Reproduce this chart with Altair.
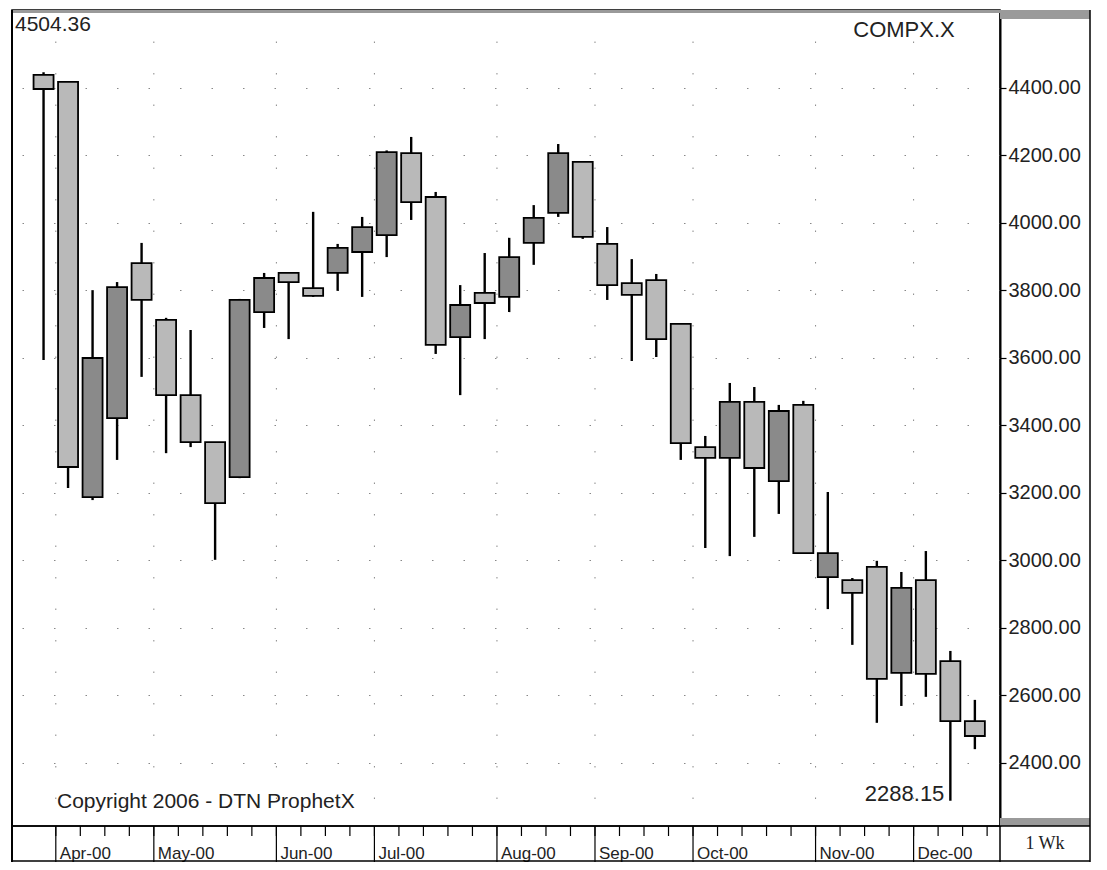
import altair as alt
import pandas as pd

# ---- data (weekly candles) ----
dates = ["2000-03-27", "2000-04-03", "2000-04-10", "2000-04-17", "2000-04-24",
         "2000-05-01", "2000-05-08", "2000-05-15", "2000-05-22", "2000-05-29",
         "2000-06-05", "2000-06-12", "2000-06-19", "2000-06-26", "2000-07-03",
         "2000-07-10", "2000-07-17", "2000-07-24", "2000-07-31", "2000-08-07",
         "2000-08-14", "2000-08-21", "2000-08-28", "2000-09-04", "2000-09-11",
         "2000-09-18", "2000-09-25", "2000-10-02", "2000-10-09", "2000-10-16",
         "2000-10-23", "2000-10-30", "2000-11-06", "2000-11-13", "2000-11-20",
         "2000-11-27", "2000-12-04", "2000-12-11", "2000-12-18"]
opens = [4439, 4418, 3188, 3422, 3881, 3713, 3490, 3351, 3247, 3736,
         3852, 3807, 3852, 3914, 3964, 4207, 4077, 3662, 3793, 3781,
         3941, 4030, 4181, 3938, 3822, 3831, 3701, 3336, 3304, 3470,
         3235, 3461, 2951, 2942, 2981, 2667, 2942, 2702, 2524]
highs = [4447, 4418, 3801, 3825, 3941, 3719, 3683, 3351, 3775, 3852,
         3852, 4033, 3938, 4018, 4215, 4255, 4092, 3816, 3911, 3956,
         4053, 4234, 4181, 3988, 3893, 3849, 3701, 3369, 3526, 3514,
         3461, 3473, 3203, 2948, 2999, 2966, 3028, 2732, 2587]
lows = [3594, 3215, 3179, 3298, 3544, 3318, 3336, 3002, 3244, 3689,
        3656, 3781, 3799, 3781, 3899, 4009, 3612, 3490, 3656, 3736,
        3876, 4018, 3953, 3772, 3591, 3603, 3298, 3037, 3013, 3070,
        3138, 3022, 2856, 2750, 2519, 2569, 2596, 2288.15, 2441]
closes = [4397, 3277, 3600, 3810, 3772, 3490, 3351, 3170, 3772, 3837,
          3825, 3784, 3926, 3988, 4210, 4062, 3639, 3757, 3763, 3899,
          4015, 4207, 3959, 3816, 3787, 3656, 3348, 3304, 3470, 3274,
          3443, 3022, 3022, 2904, 2649, 2919, 2664, 2524, 2480]

month_labels = ["Apr-00", "May-00", "Jun-00", "Jul-00", "Aug-00",
                "Sep-00", "Oct-00", "Nov-00", "Dec-00"]
month_dividers = ["2000-03-30T12:00:00Z", "2000-04-27T12:00:00Z", "2000-06-01T12:00:00Z",
                  "2000-06-29T12:00:00Z", "2000-08-03T12:00:00Z", "2000-08-31T12:00:00Z",
                  "2000-09-28T12:00:00Z", "2000-11-02T12:00:00Z", "2000-11-30T12:00:00Z"]
price_ticks = [2400, 2600, 2800, 3000, 3200, 3400, 3600, 3800, 4000, 4200, 4400]

symbol = "COMPX.X"
high_label = "4504.36"
copyright_text = "Copyright 2006 - DTN ProphetX"
period_text = "1 Wk"

# ---- tables ----
df = pd.DataFrame({"date": dates, "open": opens, "high": highs,
                   "low": lows, "close": closes})
df["dir"] = ["up" if c > o else "down" for o, c in zip(opens, closes)]
months = pd.DataFrame({"d": month_dividers, "label": month_labels})
lo_i = lows.index(min(lows))
low_df = pd.DataFrame({"date": [dates[lo_i]], "low": [lows[lo_i]],
                       "txt": [f"{lows[lo_i]:.2f}"]})
one = pd.DataFrame({"k": [0]})

W, H = 988, 816
BAND = 36
PANEL = 90
FONT = "Liberation Sans"
LIGHT, DARK = "#b9b9b9", "#8a8a8a"

xscale = alt.Scale(type="utc", domain=[
    alt.DateTime(year=2000, month=3, date=19, hours=10, minutes=0, utc=True),
    alt.DateTime(year=2000, month=12, date=23, hours=18, minutes=0, utc=True)])
yscale = alt.Scale(domain=[2213.3, 4631.1], nice=False, zero=False)

yaxis = alt.Axis(orient="right", values=price_ticks, format=".2f", title=None,
                 grid=True, gridDash=[1.5, 30], gridColor="#888", gridWidth=1,
                 labelFont=FONT, labelFontSize=20, labelColor="#222",
                 tickColor="black", tickSize=6, tickWidth=1.2,
                 domainColor="black", domainWidth=2, labelPadding=2)

base = alt.Chart(df)

vgrid = alt.Chart(months).mark_rule(color="#888", strokeDash=[1.5, 30], strokeWidth=1).encode(
    x=alt.X("d:T", scale=xscale, axis=None), y=alt.value(0), y2=alt.value(H))

wicks = base.mark_rule(color="black", strokeWidth=2.4).encode(
    x=alt.X("date:T", scale=xscale, axis=None),
    y=alt.Y("low:Q", scale=yscale, axis=yaxis), y2="high:Q")

bodies = base.mark_bar(size=20, stroke="black", strokeWidth=1.8).encode(
    x=alt.X("date:T", scale=xscale, axis=None),
    y=alt.Y("open:Q", scale=yscale), y2="close:Q",
    color=alt.Color("dir:N", scale=alt.Scale(domain=["up", "down"], range=[DARK, LIGHT]),
                    legend=None))

week_ticks = base.transform_calculate(
    wk="time(toDate(datum.date)) + 302400000").mark_rule(color="black", strokeWidth=1.2).encode(
    x=alt.X("wk:T", scale=xscale, axis=None), y=alt.value(H), y2=alt.value(H + 10))

dividers = alt.Chart(months).mark_rule(color="black", strokeWidth=1.2).encode(
    x=alt.X("d:T", scale=xscale, axis=None), y=alt.value(H), y2=alt.value(H + BAND))

mlabels = alt.Chart(months).mark_text(align="left", baseline="alphabetic", dx=4,
                                      font=FONT, fontSize=17, color="#222").encode(
    x=alt.X("d:T", scale=xscale, axis=None), y=alt.value(H + 33), text="label:N")

low_text = alt.Chart(low_df).mark_text(align="right", baseline="alphabetic", dx=-6,
                                       font=FONT, fontSize=22, color="#222").encode(
    x=alt.X("date:T", scale=xscale, axis=None), y=alt.Y("low:Q", scale=yscale), text="txt:N")

def label(txt, x, y, size, align="left", font=FONT):
    return alt.Chart(one).mark_text(align=align, baseline="middle", font=font,
                                    fontSize=size, color="#222", text=txt).encode(
        x=alt.value(x), y=alt.value(y))

def rule(x, x2, y, y2, color="black", w=1.5):
    return alt.Chart(one).mark_rule(color=color, strokeWidth=w).encode(
        x=alt.value(x), x2=alt.value(x2), y=alt.value(y), y2=alt.value(y2))

top_strip = alt.Chart(one).mark_rect(color="#9a9a9a").encode(
    x=alt.value(0), x2=alt.value(W), y=alt.value(0), y2=alt.value(3))
panel_top = alt.Chart(one).mark_rect(color="#9a9a9a").encode(
    x=alt.value(W), x2=alt.value(W + PANEL), y=alt.value(0), y2=alt.value(9))
panel_bot = alt.Chart(one).mark_rect(color="#9a9a9a").encode(
    x=alt.value(W), x2=alt.value(W + PANEL), y=alt.value(H - 8), y2=alt.value(H))

chart = alt.layer(
    vgrid, wicks, bodies, week_ticks, dividers, mlabels, low_text,
    top_strip, panel_top, panel_bot,
    rule(W + PANEL, W + PANEL, 0, H + BAND),
    rule(0, W + PANEL, H + BAND - 1, H + BAND - 1),
    rule(0, W + PANEL, H, H),
    rule(0, 0, 0, H + BAND, w=2),
    rule(W, W, H, H + BAND),
    label(high_label, 3, 15, 21),
    label(symbol, 892, 20, 22, align="center"),
    label(copyright_text, 45, 792, 21),
    label(period_text, W + 45, H + 18, 18, align="center", font="Liberation Serif"),
).properties(
    width=W, height=H,
    autosize=alt.AutoSizeParams(type="none"),
    padding={"left": 4, "top": 2, "right": 94, "bottom": BAND},
    background="white",
).configure_view(stroke="black", strokeWidth=1.5)

chart.save("out.html", embed_options={"renderer": "svg", "actions": False})
